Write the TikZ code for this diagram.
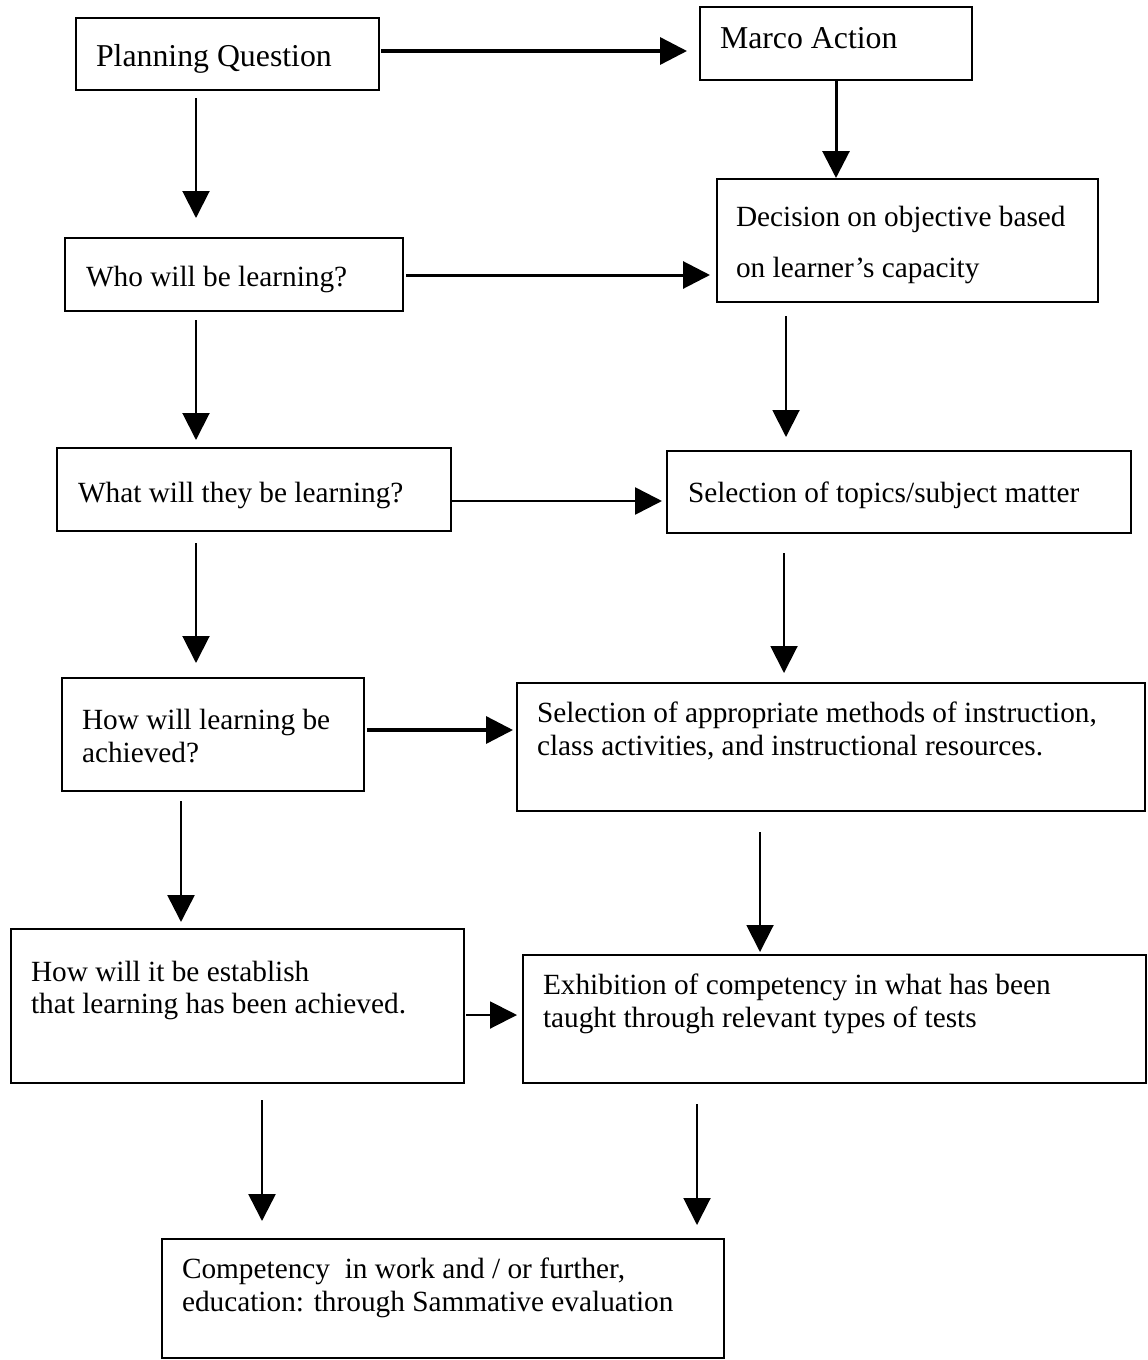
\documentclass[tikz,border=0pt]{standalone}
\usepackage{fontspec}
\setmainfont{Liberation Serif}
\usetikzlibrary{arrows.meta}
\begin{document}
\begin{tikzpicture}[x=1pt,y=-1pt,
  box/.style={draw=black, line width=1.8pt, rectangle, inner sep=0pt, outer sep=0pt},
  txt/.style={inner sep=0pt, outer sep=0pt, anchor=base west, font=\fontsize{29.3pt}{33pt}\selectfont},
  bigtxt/.style={inner sep=0pt, outer sep=0pt, anchor=base west, font=\fontsize{31.8pt}{36pt}\selectfont},
  arr/.style={line width=2pt, -{Triangle[length=27pt,width=27pt]}},
  arrM/.style={line width=2.6pt, -{Triangle[length=27pt,width=27pt]}},
  arrT/.style={line width=3.4pt, -{Triangle[length=27pt,width=27pt]}}]
\useasboundingbox (0,0) rectangle (1148,1360);
\fill[white] (0,0) rectangle (1148,1360);

% boxes
\node[box, minimum width=303pt, minimum height=72pt]  (pq)   at (227.5,54)    {};
\node[box, minimum width=272pt, minimum height=73pt]  (ma)   at (836,43.5)    {};
\node[box, minimum width=381pt, minimum height=123pt] (dec)  at (907.5,240.5) {};
\node[box, minimum width=338pt, minimum height=73pt]  (who)  at (234,274.5)   {};
\node[box, minimum width=394pt, minimum height=83pt]  (what) at (254,489.5)   {};
\node[box, minimum width=464pt, minimum height=82pt]  (sel)  at (899,492)     {};
\node[box, minimum width=302pt, minimum height=113pt] (how)  at (213,734.5)   {};
\node[box, minimum width=628pt, minimum height=128pt] (meth) at (831,747)     {};
\node[box, minimum width=453pt, minimum height=154pt] (est)  at (237.5,1006)  {};
\node[box, minimum width=623pt, minimum height=128pt] (exh)  at (834.5,1019)  {};
\node[box, minimum width=562pt, minimum height=119pt] (comp) at (443,1298.5)  {};

% texts
\node[bigtxt] (pqt)   at (96,66)   {Planning Question};
\node[bigtxt] (mat)   at (720,48)  {Marco Action};
\node[txt]    (dect1) at (736,226) {Decision on objective based};
\node[txt]    (dect2) at (736,277) {on learner’s capacity};
\node[txt]    (whot)  at (86,286)  {Who will be learning?};
\node[txt]    (whatt) at (78,502)  {What will they be learning?};
\node[txt]    (selt)  at (688,502) {Selection of topics/subject matter};
\node[txt]    (howt1) at (82,729)  {How will learning be};
\node[txt]    (howt2) at (82,762)  {achieved?};
\node[txt]    (metht1) at (537,722) {Selection of appropriate methods of instruction,};
\node[txt]    (metht2) at (537,755) {class activities, and instructional resources.};
\node[txt]    (estt1) at (31,981)  {How will it be establish};
\node[txt]    (estt2) at (31,1013) {that learning has been achieved.};
\node[txt]    (exht1) at (543,994) {Exhibition of competency in what has been};
\node[txt]    (exht2) at (543,1027) {taught through relevant types of tests};
\node[txt]    (compt1) at (182,1278) {Competency\ \ in work and / or further,};
\node[txt]    (compt2) at (182,1311) {education: through Sammative evaluation};

% connectors
\draw[arrT, shorten <=2pt, shorten >=13pt] (pq.east |- 0,51) -- (ma.west |- 0,51);
\draw[arrM, line width=3pt, shorten >=1pt] (ma.south) -- (ma.south |- dec.north);
\draw[arr, shorten <=8pt, shorten >=20pt] (pq.south -| 196,0) -- (who.north -| 196,0);
\draw[arrM, line width=3pt, shorten <=3pt, shorten >=7pt] (who.east |- 0,275) -- (dec.west |- 0,275);
\draw[arr, shorten <=14pt, shorten >=14pt] (dec.south -| 786,0) -- (sel.north -| 786,0);
\draw[arr, shorten <=9pt, shorten >=8pt] (who.south -| 196,0) -- (what.north -| 196,0);
\draw[arrM, shorten >=5pt] (what.east |- 0,501) -- (sel.west |- 0,501);
\draw[arr, shorten <=20pt, shorten >=10pt] (sel.south -| 784,0) -- (meth.north -| 784,0);
\draw[arr, shorten <=12pt, shorten >=15pt] (what.south -| 196,0) -- (how.north -| 196,0);
\draw[arrT, shorten <=3pt, shorten >=4pt] (how.east |- 0,730) -- (meth.west |- 0,730);
\draw[arr, shorten <=21pt, shorten >=3pt] (meth.south -| 760,0) -- (exh.north -| 760,0);
\draw[arrM, shorten <=10pt, shorten >=7pt] (how.south -| 181,0) -- (est.north -| 181,0);
\draw[arr, shorten <=2pt, shorten >=6pt] (est.east |- 0,1015) -- (exh.west |- 0,1015);
\draw[arrM, shorten <=17pt, shorten >=18pt] (est.south -| 262,0) -- (comp.north -| 262,0);
\draw[arr, shorten <=21pt, shorten >=14pt] (exh.south -| 697,0) -- (comp.north -| 697,0);
\end{tikzpicture}
\end{document}
